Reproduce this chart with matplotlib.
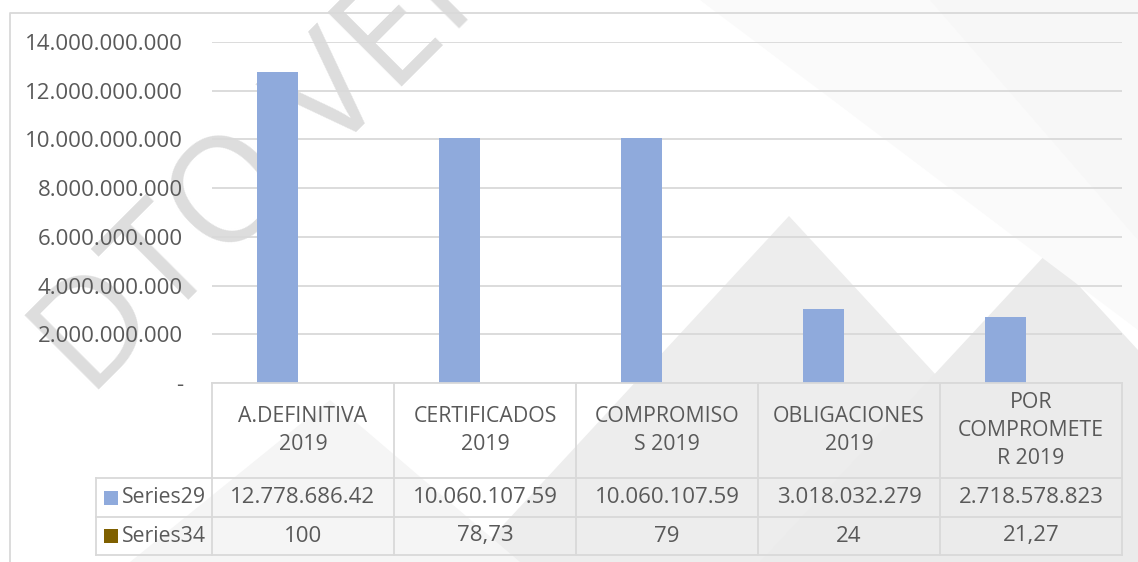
import numpy as np
import matplotlib.pyplot as plt
from matplotlib.patches import Polygon, Rectangle
from matplotlib.transforms import blended_transform_factory

# data
categorias = ['A.DEFINITIVA\n2019', 'CERTIFICADOS\n2019', 'COMPROMISO\nS 2019',
              'OBLIGACIONES\n2019', 'POR\nCOMPROMETE\nR 2019']
series29 = [12778686420, 10060107590, 10060107590, 3018032279, 2718578823]
series34 = [100, 78.73, 79, 24, 21.27]
txt29 = ['12.778.686.42', '10.060.107.59', '10.060.107.59', '3.018.032.279', '2.718.578.823']
txt34 = ['100', '78,73', '79', '24', '21,27']
nombres = ['Series29', 'Series34']
colores = ['#8FAADC', '#7F6000']

plt.rcParams['font.family'] = ['Open Sans', 'DejaVu Sans']
gris = '#595959'
linea = '#D9D9D9'
W, H = 1138, 562
fs_num = 16
fs_cap = 15.3

fig = plt.figure(figsize=(W/100, H/100), dpi=100)
fx = lambda x: x/W
fy = lambda y: 1 - y/H

# background decoration (page watermark)
for pts, c in [([(469, 562), (789, 216), (1109, 562)], '#EDEDED'),
               ([(760, 562), (1048, 252), (1138, 350), (1138, 562)], '#EBEBEB'),
               ([(840, 0), (1138, 0), (1138, 330)], '#F7F7F7'),
               ([(700, 0), (930, 0), (1138, 240), (1138, 330)], '#FAFAFA'),
               ([(130, 562), (330, 400), (520, 562)], '#F5F5F5')]:
    fig.patches.append(Polygon([(fx(a), fy(b)) for a, b in pts], closed=True,
                               transform=fig.transFigure, facecolor=c,
                               edgecolor='none', zorder=-2))
fig.text(fx(62), fy(372), 'DTO VERS', fontsize=106, color='#DDDDDD', rotation=45,
         rotation_mode='anchor', ha='left', va='center', zorder=-1)

# chart frame
fig.add_artist(plt.Line2D([fx(10), fx(10), fx(W)], [fy(H), fy(13), fy(13)],
                          transform=fig.transFigure, color=linea, lw=1.3))

ax = fig.add_axes([fx(212), fy(383), fx(1122) - fx(212), fy(42) - fy(383)])
ax.patch.set_alpha(0)
x = np.arange(len(categorias))
ax.bar(x - 0.14, series29, width=0.225, color=colores[0], zorder=3)
ax.bar(x + 0.14, series34, width=0.225, color=colores[1], zorder=3)
ax.set_xlim(-0.5, 4.5)
ax.set_ylim(0, 14e9)
ax.set_yticks(np.arange(0, 14e9 + 1, 2e9))
ax.set_yticklabels(['-' if v == 0 else f'{int(v):,}'.replace(',', '.')
                    for v in ax.get_yticks()])
ax.tick_params(axis='y', length=0, pad=21, labelsize=fs_num, labelcolor=gris)
ax.set_xticks([])
ax.grid(axis='y', color=linea, lw=1.3, zorder=0)
for s in ax.spines.values():
    s.set_visible(False)

# data table under the axis
tr = blended_transform_factory(ax.transData, fig.transFigure)
tf = fig.transFigure
rows = [383, 478, 517, 555]
def hline(x0, x1, y):
    fig.add_artist(plt.Line2D([fx(x0), fx(x1)], [fy(y), fy(y)], transform=tf,
                              color=linea, lw=1.3))
def vline(xp, y0, y1):
    fig.add_artist(plt.Line2D([fx(xp), fx(xp)], [fy(y0), fy(y1)], transform=tf,
                              color=linea, lw=1.3))
hline(212, 1122, rows[0])
for yy in rows[1:]:
    hline(96, 1122, yy)
vline(96, rows[1], rows[3])
for i in range(len(categorias) + 1):
    vline(212 + i*182, rows[0], rows[3])

for i, cat in enumerate(categorias):
    fig.text(x[i], fy((rows[0] + rows[1])/2), cat, transform=tr, ha='center',
             va='center', fontsize=fs_cap, color=gris, linespacing=1.45)
    fig.text(x[i], fy((rows[1] + rows[2])/2), txt29[i], transform=tr, ha='center',
             va='center', fontsize=fs_num, color=gris)
    fig.text(x[i], fy((rows[2] + rows[3])/2), txt34[i], transform=tr, ha='center',
             va='center', fontsize=fs_num, color=gris)

for k, nom in enumerate(nombres):
    yc = (rows[k+1] + rows[k+2])/2
    fig.patches.append(Rectangle((fx(104), fy(yc + 7)), fx(14), fy(0) - fy(14),
                                 transform=tf, facecolor=colores[k], edgecolor='none'))
    fig.text(fx(122), fy(yc), nom, ha='left', va='center', fontsize=fs_cap, color=gris)

plt.savefig('out.png', dpi=100)
